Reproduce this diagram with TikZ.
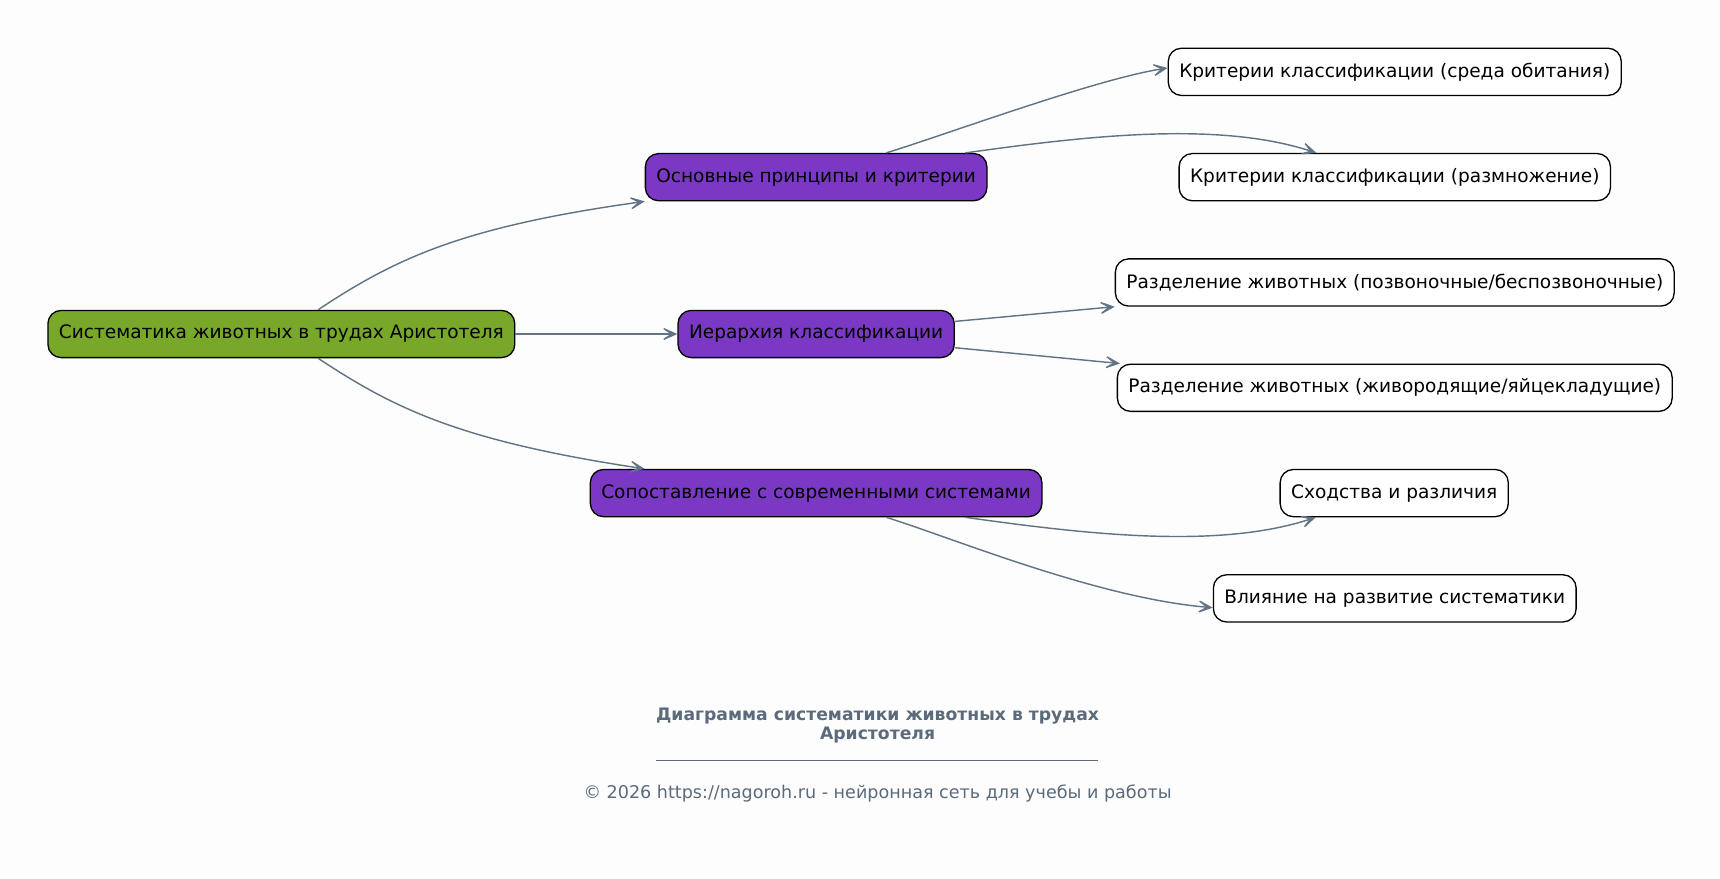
\documentclass[tikz,border=0pt]{standalone}
\usepackage{fontspec}
\setmainfont{DejaVu Sans}
\usetikzlibrary{arrows.meta,calc}
\definecolor{bgc}{HTML}{FDFDFD}
\definecolor{rootc}{HTML}{78A82A}
\definecolor{midc}{HTML}{7A38C4}
\definecolor{edgec}{HTML}{627384}
\definecolor{titlec}{HTML}{5B6B7B}
\tikzset{
  box/.style={draw=black, line width=0.6pt, rounded corners=6pt, minimum height=21.5pt, inner xsep=5pt, inner ysep=0pt, font=\fontsize{8.45}{10}\selectfont, text=black},
  rootbox/.style={box, fill=rootc},
  midbox/.style={box, fill=midc},
  leafbox/.style={box, fill=white},
  conn/.style={draw=edgec, line width=0.65pt, -{Stealth[length=9.5pt,width=8.5pt,inset=6.5pt,line width=0.6pt]}},
}
\begin{document}
\begin{tikzpicture}[x=0.5pt,y=-0.5pt]
\fill[bgc] (0,0) rectangle (1568,801.3);
\useasboundingbox (0,0) rectangle (1568,801.3);
\node[rootbox] (root) at (256.5,304.5) {Систематика животных в трудах Аристотеля};
\node[midbox] (A) at (744,161.5) {Основные принципы и критерии};
\node[midbox] (B) at (744,304.5) {Иерархия классификации};
\node[midbox] (C) at (744,449.5) {Сопоставление с современными системами};
\node[leafbox] (A1) at (1271.5,65.5) {Критерии классификации (среда обитания)};
\node[leafbox] (A2) at (1271.5,161.5) {Критерии классификации (размножение)};
\node[leafbox] (B1) at (1271.5,257.5) {Разделение животных (позвоночные/беспозвоночные)};
\node[leafbox] (B2) at (1271.5,353.5) {Разделение животных (живородящие/яйцекладущие)};
\node[leafbox] (C1) at (1271,449.5) {Сходства и различия};
\node[leafbox] (C2) at (1271.5,545.5) {Влияние на развитие систематики};
% connectors
\draw[conn] ([xshift=16.75pt]root.north) .. controls (360,236) and (420,207) .. (A.south west);
\draw[conn] (root.east) -- (B.west);
\draw[conn] ([xshift=16.75pt]root.south) .. controls (360,373) and (420,402) .. ([xshift=25pt]C.north west);
\draw[conn] ([xshift=32pt]A.north) .. controls (870,120) and (1000,72) .. ([yshift=1.75pt]A1.west);
\draw[conn] ([xshift=68pt]A.north) .. controls (990,124) and (1110,110) .. ([xshift=-35.75pt]A2.north);
\draw[conn] ([yshift=5.75pt]B.east) -- ([xshift=0pt]B1.south west);
\draw[conn] ([yshift=-6.25pt]B.east) -- ([xshift=1.5pt]B2.north west);
\draw[conn] ([xshift=68pt]C.south) .. controls (990,487) and (1110,501) .. ([xshift=-35.75pt]C1.south);
\draw[conn] ([xshift=32pt]C.south) .. controls (870,491) and (1000,545) .. ([yshift=-4.25pt]C2.west);
% title and footer
\node[font=\bfseries\fontsize{7.85}{8.8}\selectfont, text=titlec, align=center] (title) at (800,661.5) {Диаграмма систематики животных в трудах\\Аристотеля};
\coordinate (ul) at (598,693);
\coordinate (ur) at (1001,693);
\draw[titlec, line width=0.4pt] (ul) -- (ur);
\node[font=\fontsize{8}{9.6}\selectfont, text=titlec] (foot) at (800,723) {© 2026 https://nagoroh.ru - нейронная сеть для учебы и работы};
\end{tikzpicture}
\end{document}
